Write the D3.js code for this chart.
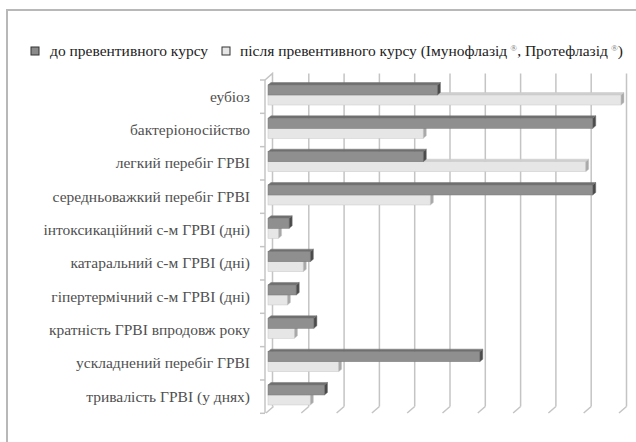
<!DOCTYPE html>
<html><head><meta charset="utf-8">
<script src="https://cdn.jsdelivr.net/npm/d3@7"></script>
</head><body style="margin:0">
<svg id="c" width="636" height="442" style="display:block"></svg>
<script>
const categories = [
  "еубіоз",
  "бактеріоносійство",
  "легкий перебіг ГРВІ",
  "середньоважкий перебіг ГРВІ",
  "інтоксикаційний с-м ГРВІ (дні)",
  "катаральний с-м ГРВІ (дні)",
  "гіпертермічний с-м ГРВІ (дні)",
  "кратність ГРВІ впродовж року",
  "ускладнений перебіг ГРВІ",
  "тривалість ГРВІ (у днях)"
];
const before = [48, 92, 44, 92, 6, 12, 8, 13, 60, 16];
const after  = [100, 44, 90, 46, 3, 10, 5.5, 7.5, 20, 12];
const seriesNames = ["до превентивного курсу", "після превентивного курсу (Імунофлазід", ", Протефлазід", ")"];
const gridTicks = [0,10,20,30,40,50,60,70,80,90,100];

const FONT = "Liberation Serif";
const svg = d3.select("#c");

// frame
svg.append("path").attr("d","M7,442 V10 H636").attr("fill","none").attr("stroke","#b8b8b8").attr("stroke-width",2);

// legend
svg.append("rect").attr("x",31).attr("y",47).attr("width",8).attr("height",8).attr("fill","#8a8a8a").attr("stroke","#333").attr("stroke-width",1);
svg.append("text").attr("x",50).attr("y",56).attr("font-family",FONT).style("font-family",`"${FONT}"`).attr("font-size",15.5).attr("fill","#222").text(seriesNames[0]);
svg.append("rect").attr("x",222).attr("y",47).attr("width",8).attr("height",8).attr("fill","#e6e6e6").attr("stroke","#333").attr("stroke-width",1);
const t2 = svg.append("text").attr("x",240).attr("y",56).attr("font-family",FONT).style("font-family",`"${FONT}"`).attr("font-size",15.5).attr("fill","#222");
t2.append("tspan").text(seriesNames[1] + "\u2009");
t2.append("tspan").attr("font-size",9).attr("dy",-5).attr("fill","#777").text("\u00AE");
t2.append("tspan").attr("dy",5).text(seriesNames[2] + "\u2009");
t2.append("tspan").attr("font-size",9).attr("dy",-5).attr("fill","#777").text("\u00AE");
t2.append("tspan").attr("dy",5).text(seriesNames[3]);

const x = d3.scaleLinear().domain([0,100]).range([268, 621]);
const y = d3.scaleBand().domain(categories).range([80, 413.3]).padding(0);

const bdx = 5.5, bdy = -6.5;   // back wall offset
const gridColor = "#c4c4c4";

gridTicks.forEach(t => {
  const xb = x(t) + bdx;
  if (t > 0) {
    svg.append("line").attr("x1",xb).attr("x2",xb).attr("y1",80+bdy).attr("y2",413+bdy)
      .attr("stroke",gridColor).attr("stroke-width",1.5);
  }
  svg.append("line").attr("x1",xb).attr("y1",413+bdy).attr("x2",xb-7.5).attr("y2",413+bdy+6.5)
    .attr("stroke",gridColor).attr("stroke-width",1.5);
});
svg.append("path").attr("d",`M265,80 L${265+7.5},${80+bdy} V${413+bdy}`).attr("fill","none").attr("stroke",gridColor).attr("stroke-width",1.5);
svg.append("line").attr("x1",265).attr("x2",265).attr("y1",80).attr("y2",413).attr("stroke",gridColor).attr("stroke-width",1.5);
y.domain().concat(["__end"]).forEach((c,i) => {
  const yy = 80 + i*y.bandwidth();
  svg.append("line").attr("x1",260).attr("x2",265).attr("y1",yy).attr("y2",yy).attr("stroke",gridColor).attr("stroke-width",1.5);
});

// labels
categories.forEach(d => {
  svg.append("text").attr("x",250).attr("y",y(d) + y.bandwidth()/2 + 5)
    .attr("text-anchor","end").attr("font-family",FONT).style("font-family",`"${FONT}"`).attr("font-size",15.5).attr("fill","#505050")
    .text(d);
});

// 3D bars
const dx = 3, dy = -2.5, bh = 10;
function bar3d(x0, x1, y0, front, top, side, stroke) {
  svg.append("path").attr("d",`M${x0},${y0} L${x0+dx},${y0+dy} L${x1+dx},${y0+dy} L${x1},${y0} Z`).attr("fill",top).attr("stroke",stroke).attr("stroke-width",0.5);
  svg.append("rect").attr("x",x0).attr("y",y0).attr("width",x1-x0).attr("height",bh).attr("fill",front).attr("stroke",stroke).attr("stroke-width",0.5);
  svg.append("path").attr("d",`M${x1},${y0} L${x1+dx},${y0+dy} L${x1+dx},${y0+dy+bh} L${x1},${y0+bh} Z`).attr("fill",side).attr("stroke",stroke).attr("stroke-width",0.5);
}
categories.forEach((c,i) => {
  const yb = y(c);
  bar3d(x(0), x(after[i]), yb + 15, "#e6e6e6", "#cfcfcf", "#a8a8a8", "#c8c8c8");
  bar3d(x(0), x(before[i]), yb + 5, "#8f8f8f", "#6f6f6f", "#4a4a4a", "#777");
});
</script>
</body></html>
